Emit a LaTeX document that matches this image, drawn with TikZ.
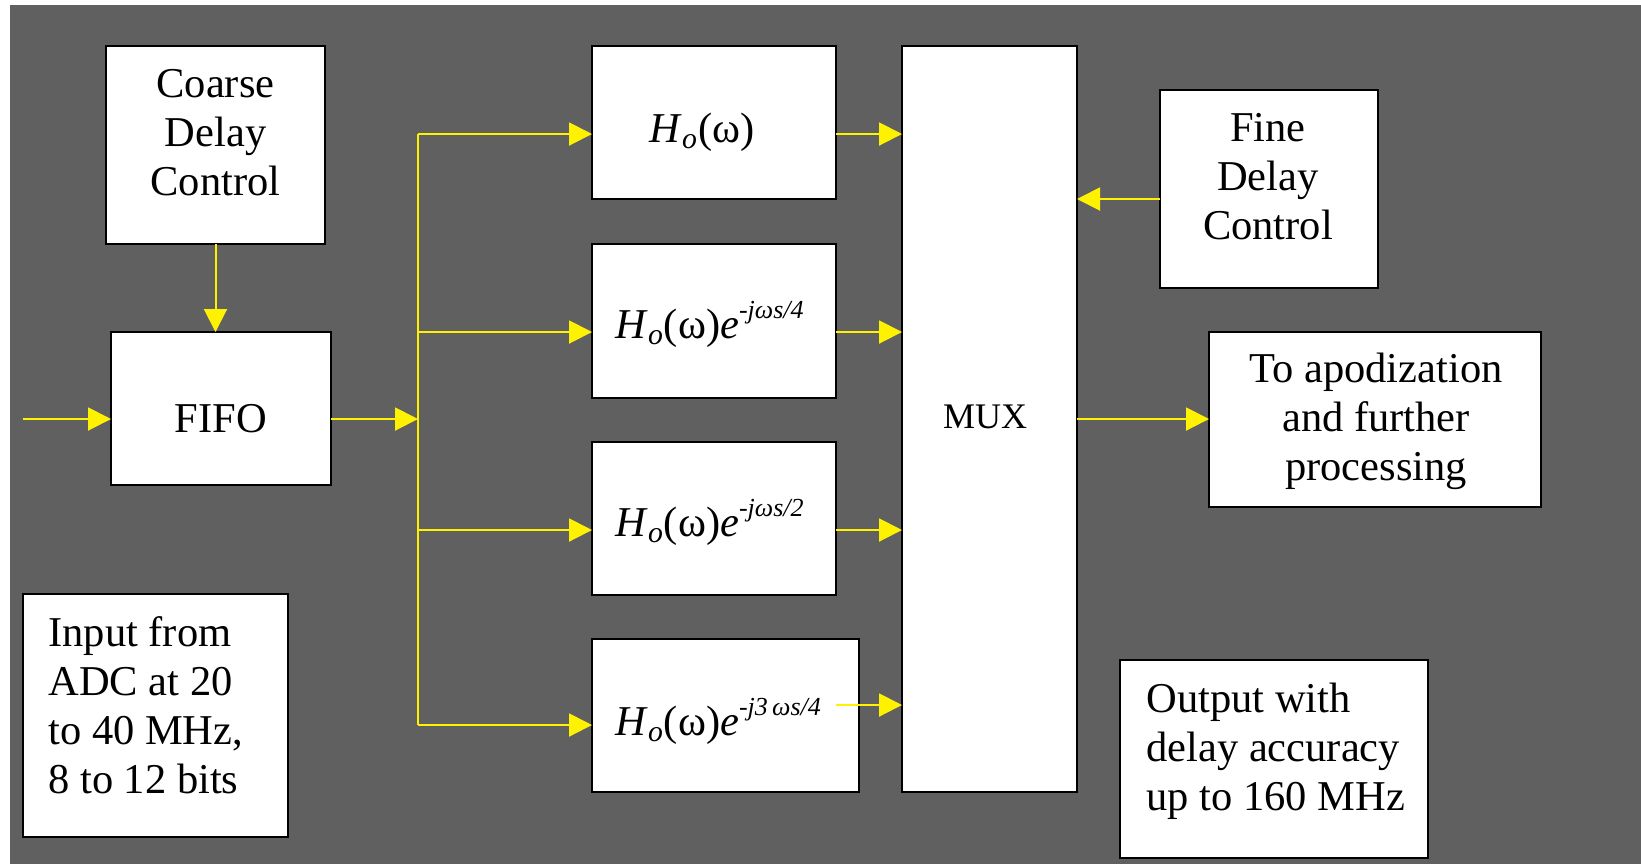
\documentclass[tikz,border=0pt]{standalone}
\usepackage{fontspec}
\setmainfont{Liberation Serif}
\usetikzlibrary{arrows.meta,calc}
\definecolor{bg}{RGB}{96,96,96}
\newcommand{\supx}[1]{\raisebox{10pt}{\fontsize{13}{14}\selectfont\itshape #1}}
\newcommand{\Hoo}{\textit{H}\textsubscript{\textit{o}}(ω)}
\begin{document}
\begin{tikzpicture}[x=0.5pt,y=-0.5pt,
  box/.style={draw=black,line width=0.8pt,fill=white,inner sep=0pt,outer sep=0pt},
  txt/.style={inner sep=0pt,font=\fontsize{21.25}{24.5}\selectfont},
  arr/.style={draw=yellow,line width=1pt,-{Triangle[length=11.5pt,width=11.5pt]}},
  busline/.style={draw=yellow,line width=1pt}]
\useasboundingbox (0,0) rectangle (1641,864);
\fill[bg] (10,5) rectangle (1641,864);

% boxes
\node[box,minimum width=109.5pt,minimum height=99pt] (coarse) at (215.5,145) {};
\node[box,minimum width=110pt,minimum height=76.5pt] (fifo) at (221,408.5) {};
\node[box,minimum width=122pt,minimum height=76.5pt] (h0) at (714,122.5) {};
\node[box,minimum width=122pt,minimum height=77pt] (h1) at (714,321) {};
\node[box,minimum width=122pt,minimum height=76.5pt] (h2) at (714,518.5) {};
\node[box,minimum width=133.5pt,minimum height=76.5pt] (h3) at (725.5,715.5) {};
\node[box,minimum width=87.5pt,minimum height=373pt] (mux) at (989.5,419) {};
\node[box,minimum width=109pt,minimum height=99pt] (fine) at (1269,189) {};
\node[box,minimum width=166pt,minimum height=87.5pt] (apod) at (1375,419.5) {};
\node[box,minimum width=132.5pt,minimum height=121.5pt] (input) at (155.5,715.5) {};
\node[box,minimum width=154pt,minimum height=99pt] (output) at (1274,759) {};

% texts (base anchor = baseline of last line)
\node[txt,align=center,anchor=base] (coarseT) at (215.5,195) {Coarse\\Delay\\Control};
\node[txt,anchor=base] (fifoT) at (221,432) {FIFO};
\node[txt,anchor=base] (h0T) at (702,142) {\Hoo};
\node[txt,anchor=base west] (h1T) at (615,338) {\Hoo\textit{e}\supx{-jωs/4}};
\node[txt,anchor=base west] (h2T) at (615,536) {\Hoo\textit{e}\supx{-jωs/2}};
\node[txt,anchor=base west] (h3T) at (615,735) {\Hoo\textit{e}\supx{-j3\,ωs/4}};
\node[inner sep=0pt,font=\fontsize{18}{20}\selectfont,anchor=base] (muxT) at (985,428) {MUX};
\node[txt,align=center,anchor=base] (fineT) at (1268,239) {Fine\\Delay\\Control};
\node[txt,align=center,anchor=base] (apodT) at (1376,480) {To apodization\\and further\\processing};
\node[txt,align=left,anchor=base west] (inputT) at (48,793) {Input from\\ADC at 20\\to 40 MHz,\\8 to 12 bits};
\node[txt,align=left,anchor=base west] (outputT) at (1146,810) {Output with\\delay accuracy\\up to 160 MHz};

% connector points
\coordinate (in) at (23,419);
\coordinate (j) at (418,419);
\coordinate (b0) at (418,134);
\coordinate (b1) at (418,332);
\coordinate (b2) at (418,530);
\coordinate (b3) at (418,725);
\coordinate (h3o) at (836,705);
\coordinate (fo) at (1160,199);

% connectors
\draw[arr] (in) -- (in -| fifo.west);
\draw[arr] (coarse.south) -- (coarse.south |- fifo.north);
\draw[arr] (j -| fifo.east) -- (j);
\draw[busline] (b0) -- (b3);
\draw[arr] (b0) -- (b0 -| h0.west);
\draw[arr] (b1) -- (b1 -| h1.west);
\draw[arr] (b2) -- (b2 -| h2.west);
\draw[arr] (b3) -- (b3 -| h3.west);
\draw[arr] (b0 -| h0.east) -- (b0 -| mux.west);
\draw[arr] (b1 -| h1.east) -- (b1 -| mux.west);
\draw[arr] (b2 -| h2.east) -- (b2 -| mux.west);
\draw[arr] (h3o) -- (h3o -| mux.west);
\draw[arr] (fo -| fine.west) -- (fo -| mux.east);
\draw[arr] (j -| mux.east) -- (j -| apod.west);
\end{tikzpicture}
\end{document}
